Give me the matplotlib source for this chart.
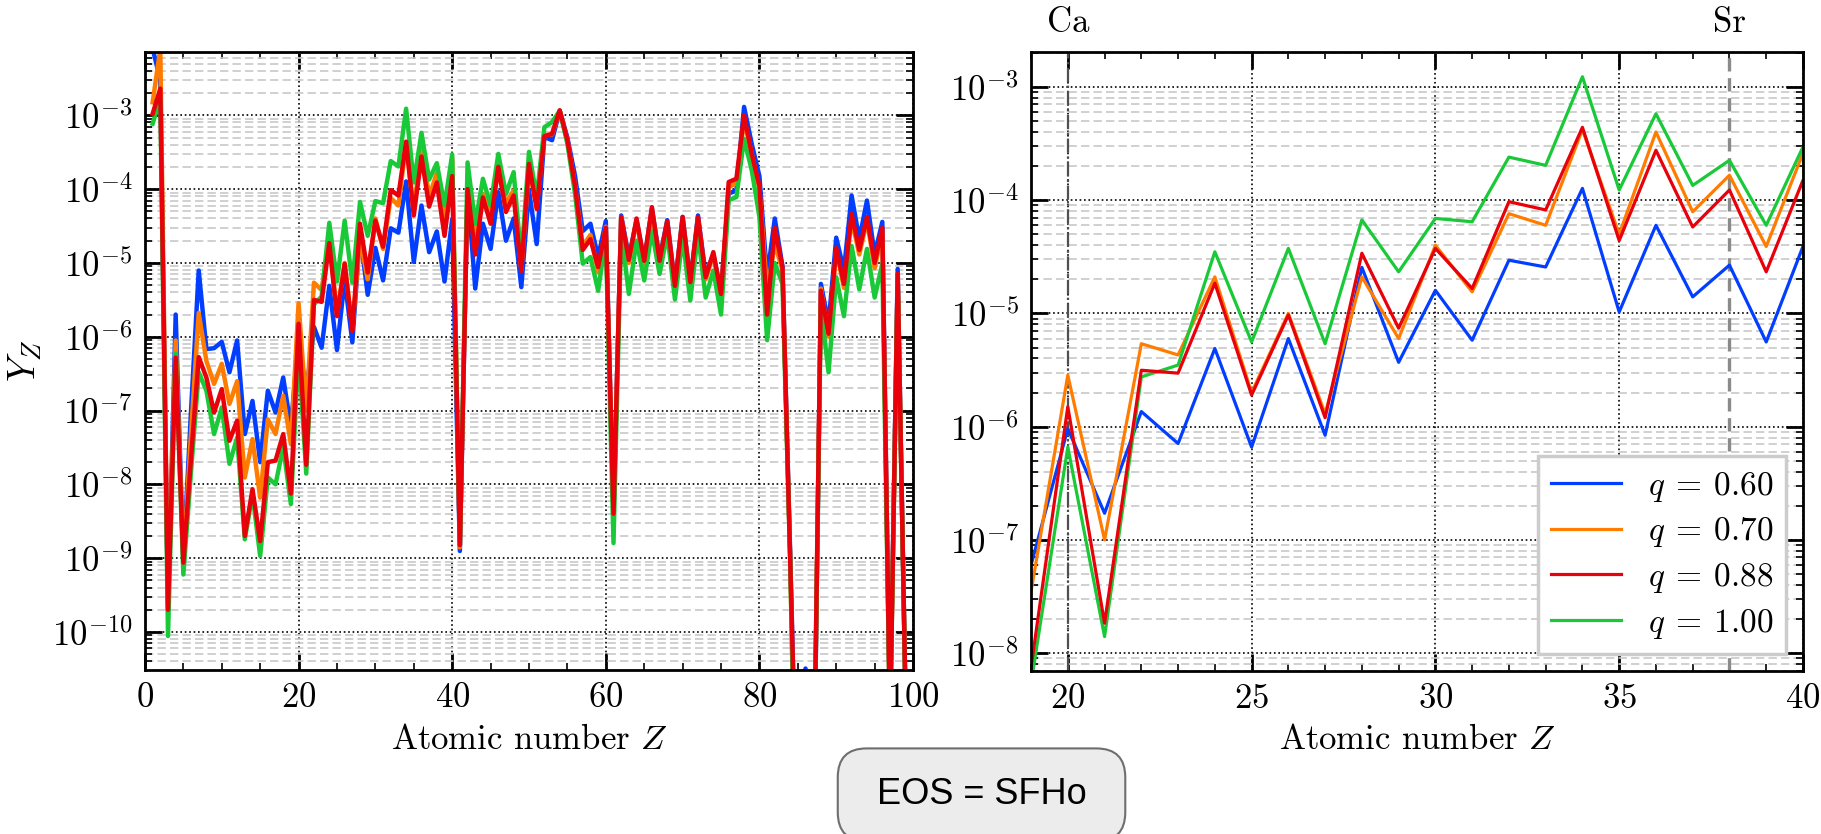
import numpy as np
import matplotlib.pyplot as plt
import matplotlib.transforms as mtransforms
from matplotlib.ticker import MultipleLocator, LogLocator, FuncFormatter, NullFormatter

plt.rcParams['font.family'] = 'serif'
plt.rcParams['font.serif'] = ['cmr10']
plt.rcParams['mathtext.fontset'] = 'cm'
plt.rcParams['axes.formatter.use_mathtext'] = True

# atomic number
Z = np.arange(1, 100)

# abundances Y_Z for each mass ratio q
y_q060 = [8e-3, 3e-3, 2.2e-10, 2.0e-6, 9e-10, 1e-7, 7.9e-6, 6.8e-7, 7.0e-7, 8.5e-7,
          3.3e-7, 8.9e-7, 4.8e-8, 1.35e-7, 2.0e-8, 1.86e-7, 9.4e-8, 2.8e-7, 6e-8, 9.6e-7,
          1.72e-7, 1.36e-6, 7.1e-7, 4.9e-6, 6.6e-7, 6.0e-6, 8.4e-7, 2.55e-5, 3.7e-6, 1.6e-5,
          5.8e-6, 2.95e-5, 2.57e-5, 1.27e-4, 1.03e-5, 6.0e-5, 1.4e-5, 2.67e-5, 5.6e-6, 3.9e-5,
          1.25e-9, 1.0e-4, 4.5e-6, 3.4e-5, 1.55e-5, 9.1e-5, 2.0e-5, 4.0e-5, 4.7e-6, 9.6e-5,
          1.8e-5, 5.1e-4, 4.6e-4, 1.15e-3, 5.0e-4, 1.5e-4, 2.7e-5, 3.4e-5, 1.2e-5, 3.7e-5,
          4.0e-9, 4.4e-5, 1.2e-5, 3.7e-5, 1.07e-5, 5.4e-5, 1.15e-5, 3.8e-5, 5.0e-6, 4.2e-5,
          5.6e-6, 4.4e-5, 6.8e-6, 1.3e-5, 4.0e-6, 8.7e-5, 9.6e-5, 1.3e-3, 4.1e-4, 1.5e-4,
          6.4e-6, 4.0e-5, 9e-6, 1.2e-9, 1e-13, 3.2e-11, 1e-13, 5.2e-6, 1.5e-6, 2.2e-5,
          7.9e-6, 8.2e-5, 2.1e-5, 7.0e-5, 1.3e-5, 3.6e-5, 6e-12, 8.3e-6, 1.6e-11]

y_q070 = [1.5e-3, 8e-3, 2.1e-10, 8.9e-7, 9e-10, 5e-8, 2.1e-6, 4.7e-7, 2.3e-7, 4.3e-7,
          1.23e-7, 2.5e-7, 1.24e-8, 4.1e-8, 6.6e-9, 7.6e-8, 4.8e-8, 1.58e-7, 3.5e-8, 2.85e-6,
          1.0e-7, 5.4e-6, 4.3e-6, 2.1e-5, 2.0e-6, 1.0e-5, 1.3e-6, 2.1e-5, 6.0e-6, 4.0e-5,
          1.55e-5, 7.6e-5, 6.0e-5, 4.2e-4, 5.0e-5, 4.0e-4, 7.9e-5, 1.66e-4, 3.9e-5, 2.6e-4,
          1.4e-9, 1.1e-4, 2.5e-5, 8.6e-5, 4.4e-5, 1.8e-4, 6.5e-5, 9.6e-5, 8.0e-6, 2.0e-4,
          5.8e-5, 5.4e-4, 5.5e-4, 1.15e-3, 4.6e-4, 1.1e-4, 1.7e-5, 2.4e-5, 7.5e-6, 3.1e-5,
          4.0e-9, 4.2e-5, 1.0e-5, 3.8e-5, 9.5e-6, 5.2e-5, 1.0e-5, 3.5e-5, 4.6e-6, 4.0e-5,
          5.0e-6, 4.0e-5, 6.0e-6, 1.3e-5, 3.5e-6, 1.07e-4, 1.2e-4, 8.6e-4, 3.0e-4, 1.0e-4,
          4.2e-6, 1.8e-5, 8.0e-6, 1e-9, 1e-14, 1e-14, 2e-13, 4.5e-6, 1.0e-6, 1.5e-5,
          4.6e-6, 3.9e-5, 1.3e-5, 3.8e-5, 8.5e-6, 2.6e-5, 5e-12, 7e-6, 1.6e-11]

y_q088 = [1.05e-3, 2.3e-3, 2.0e-10, 5.2e-7, 8.7e-10, 2.3e-8, 5.3e-7, 2.8e-7, 9.4e-8, 1.95e-7,
          3.9e-8, 7.3e-8, 2.0e-9, 8.6e-9, 1.7e-9, 2.0e-8, 2.1e-8, 4.8e-8, 7.5e-9, 1.5e-6,
          1.84e-8, 3.15e-6, 2.97e-6, 1.85e-5, 1.9e-6, 9.7e-6, 1.2e-6, 3.4e-5, 7.4e-6, 3.75e-5,
          1.66e-5, 9.7e-5, 8.2e-5, 4.4e-4, 4.4e-5, 2.76e-4, 5.8e-5, 1.23e-4, 2.33e-5, 1.5e-4,
          1.5e-9, 1.0e-4, 1.3e-5, 7.7e-5, 3.4e-5, 2.0e-4, 4.9e-5, 8.2e-5, 7.8e-6, 2.2e-4,
          5.4e-5, 5.2e-4, 5.6e-4, 1.17e-3, 4.6e-4, 1.1e-4, 1.5e-5, 2.1e-5, 8.8e-6, 3.0e-5,
          4.0e-9, 4.2e-5, 1.1e-5, 4.0e-5, 1.07e-5, 5.7e-5, 1.07e-5, 3.7e-5, 4.9e-6, 4.2e-5,
          5.5e-6, 4.2e-5, 6.4e-6, 1.4e-5, 3.8e-6, 1.25e-4, 1.38e-4, 1.0e-3, 3.0e-4, 1.1e-4,
          2.0e-6, 3.0e-5, 8.7e-6, 1e-9, 1e-13, 1e-14, 2e-13, 4.2e-6, 1.1e-6, 1.6e-5,
          5.2e-6, 4.6e-5, 1.5e-5, 4.2e-5, 1.0e-5, 3.0e-5, 5e-12, 7.1e-6, 1.6e-11]

y_q100 = [7.7e-4, 1.7e-3, 8.8e-11, 5.9e-7, 6.0e-10, 1.5e-8, 3.3e-7, 1.86e-7, 4.8e-8, 1.1e-7,
          1.9e-8, 4.3e-8, 1.8e-9, 7.4e-9, 1.07e-9, 1.24e-8, 1.0e-8, 3.2e-8, 5.4e-9, 6.6e-7,
          1.4e-8, 2.75e-6, 3.5e-6, 3.5e-5, 5.6e-6, 3.75e-5, 5.4e-6, 6.7e-5, 2.33e-5, 6.9e-5,
          6.45e-5, 2.4e-4, 2.03e-4, 1.23e-3, 1.23e-4, 5.8e-4, 1.35e-4, 2.25e-4, 6.0e-5, 2.95e-4,
          1.5e-9, 2.3e-4, 3.4e-5, 1.38e-4, 6.0e-5, 3.0e-4, 8.6e-5, 1.7e-4, 1.1e-5, 3.2e-4,
          7.8e-5, 6.9e-4, 8.1e-4, 1.15e-3, 4.1e-4, 8.6e-5, 9.8e-6, 1.2e-5, 4.2e-6, 2.2e-5,
          1.6e-9, 2.7e-5, 3.8e-6, 2.0e-5, 5.8e-6, 2.7e-5, 7.1e-6, 2.5e-5, 3.2e-6, 2.2e-5,
          3.1e-6, 2.5e-5, 3.4e-6, 7.9e-6, 2.0e-6, 7.1e-5, 7.8e-5, 4.8e-4, 1.8e-4, 4.2e-5,
          9.0e-7, 1.0e-5, 5.2e-6, 1e-9, 1e-14, 1e-14, 2e-13, 2.5e-6, 3.3e-7, 6.4e-6,
          1.9e-6, 1.7e-5, 4.4e-6, 1.55e-5, 3.4e-6, 9.8e-6, 5e-12, 6e-6, 1.6e-11]

q_labels = [r'$q\:=\:0.60$', r'$q\:=\:0.70$', r'$q\:=\:0.88$', r'$q\:=\:1.00$']
colors = ['#023eff', '#ff7c00', '#e8000b', '#1ac938']
series = [y_q060, y_q070, y_q088, y_q100]
draw_order = [0, 1, 3, 2]  # red ends up on top

markers_el = ['Ca', 'Sr']
markers_Z = [20, 38]


def log_label(v, pos):
    return r'$10^{%d}$' % int(round(np.log10(v)))


def style_axis(ax, major, minor):
    ax.set_yscale('log')
    ax.xaxis.set_major_locator(MultipleLocator(major))
    ax.xaxis.set_minor_locator(MultipleLocator(minor))
    ax.yaxis.set_major_locator(LogLocator(base=10, numticks=30))
    ax.yaxis.set_minor_locator(LogLocator(base=10, subs=np.arange(2, 10), numticks=200))
    ax.yaxis.set_major_formatter(FuncFormatter(log_label))
    ax.yaxis.set_minor_formatter(NullFormatter())
    ax.tick_params(which='both', direction='in', top=True, right=True,
                   labelsize=25, pad=9)
    ax.tick_params(which='major', length=12, width=2)
    ax.tick_params(which='minor', length=5, width=1.2)
    for s in ax.spines.values():
        s.set_linewidth(2)
    ax.set_axisbelow(True)
    ax.grid(which='major', axis='both', ls=':', color='k', lw=1.2)
    ax.grid(which='minor', axis='y', ls=(0, (5, 2.5)), color='#c8c8c8', lw=1.2)
    ax.set_xlabel('Atomic number $Z$', fontsize=25, labelpad=7)


fig = plt.figure(figsize=(18.21, 8.34), dpi=100)
ax1 = fig.add_axes([0.0796, 0.1966, 0.4218, 0.741])
ax2 = fig.add_axes([0.5662, 0.1958, 0.4239, 0.742])

lines = {}
for i in draw_order:
    ax1.plot(Z, series[i], color=colors[i], lw=3.2)
    lines[i], = ax2.plot(Z, series[i], color=colors[i], lw=2.3, label=q_labels[i])

style_axis(ax1, 20, 5)
ax1.set_xlim(0, 100)
ax1.set_ylim(3.05e-11, 7.2e-3)
ax1.set_ylabel('$Y_Z$', fontsize=27, labelpad=6)

style_axis(ax2, 5, 1)
ax2.set_xlim(19, 40)
ax2.set_ylim(7.0e-9, 2.04e-3)

ax2.axvline(markers_Z[0], color='#505050', ls='-.', lw=1.6, zorder=1.5)
ax2.axvline(markers_Z[1], color='#8a8a8a', ls=(0, (4, 2)), lw=2.4, zorder=1.5)
trans = mtransforms.blended_transform_factory(ax2.transData, ax2.transAxes)
for el, z in zip(markers_el, markers_Z):
    ax2.text(z, 1.02, el, transform=trans, ha='center', va='bottom', fontsize=25)

leg = ax2.legend([lines[i] for i in range(4)], q_labels, loc='lower right',
                 fontsize=24, frameon=True, fancybox=False, edgecolor='#cccccc',
                 framealpha=1, handlelength=2.1, labelspacing=0.35)
leg.get_frame().set_linewidth(2.5)

fig.text(0.539, 0.047, ' EOS = SFHo ', ha='center', va='center', fontsize=26,
         family='Liberation Sans',
         bbox=dict(boxstyle='round,pad=0.8', fc='#ececec', ec='#6e6e6e', lw=1.5))

fig.savefig('out.png', dpi=100)
